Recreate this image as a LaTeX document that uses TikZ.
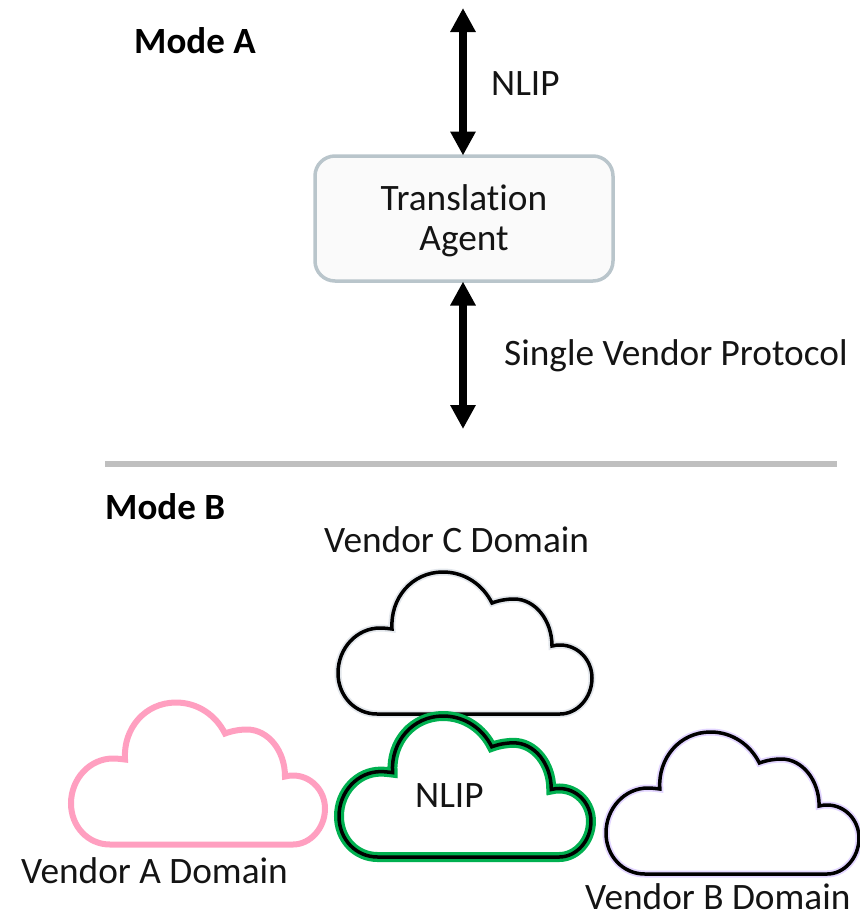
\documentclass[tikz,border=0pt]{standalone}
\usepackage{fontspec}
\setmainfont[Ligatures=NoCommon]{Carlito}
\usetikzlibrary{arrows.meta}
\definecolor{boxline}{HTML}{B9C5CB}
\definecolor{boxfill}{HTML}{FAFAFA}
\definecolor{rule}{HTML}{BFBFBF}
\definecolor{pinkc}{HTML}{FF9FC0}
\definecolor{greenc}{HTML}{00B050}
\definecolor{lilac}{HTML}{E2D5FF}
\definecolor{haze}{HTML}{E3E7EC}
\tikzset{
  x=1pt,y=-1pt,
  lab/.style={font=\fontsize{37.3}{40}\selectfont,inner sep=0pt,text=black!92},
  head/.style={font=\fontsize{37}{38}\selectfont\bfseries,inner sep=0pt},
  agent/.style={draw=boxline,fill=boxfill,line width=3.5pt,outer sep=.5pt,rounded corners=20pt,minimum width=298pt,minimum height=125pt,align=center,inner sep=0pt,font=\fontsize{37.3}{40}\selectfont,text=black!92},
  dbl/.style={line width=7.5pt,{Triangle[width=24pt,length=24pt]}-{Triangle[width=24pt,length=24pt]},black},
  cloudline/.style={line join=miter,miter limit=4},
  cloudshape/.pic={
    \path[pic actions] (39,142) .. controls (17,142) and (0,124) .. (0,101)
      .. controls (0,76) and (19,56) .. (42,56)
      .. controls (46,56) and (50,56.5) .. (54,57)
      .. controls (52,26) and (74,0) .. (105,0)
      .. controls (127,0) and (145,13) .. (154,31)
      .. controls (162,28) and (170,27) .. (176,27)
      .. controls (197,27) and (214,48) .. (214,74)
      .. controls (217,73.3) and (219,73) .. (222,73)
      .. controls (240,73) and (254,88) .. (254,106)
      .. controls (254,126) and (239,142) .. (222,142) -- cycle;
  }
}
\begin{document}
\begin{tikzpicture}
\useasboundingbox (0,0) rectangle (860,914);
\node[agent] (ta) at (464,218.5) {\rule{0pt}{30pt}Translation\\[0pt]Agent};
\coordinate (nt) at (463,8);
\coordinate (nb) at (463,429);
\draw[dbl] (nt) -- (ta.north -| nt);
\draw[dbl] (ta.south -| nb) -- (nb);
\node[head,anchor=base west] (ma) at (134,53) {Mode A};
\node[lab,anchor=base west] (nl) at (491,95) {NLIP};
\node[lab,anchor=base west] (sv) at (504,365) {Single Vendor Protocol};
\coordinate (rl) at (105,464);
\coordinate (rr) at (837,464);
\draw[rule,line width=6pt] (rl) -- (rr);
\node[head,anchor=base west] (mb) at (105,519) {Mode B};
\node[lab,anchor=base west] (vc) at (324,552) {Vendor C Domain};
\pic[draw=haze,line width=7pt,cloudline,fill=white] at (338,572) {cloudshape};
\pic[draw=black,line width=3.5pt,cloudline] at (338,572) {cloudshape};
\pic[draw=pinkc,line width=6pt,cloudline,fill=white] at (71,702.5) {cloudshape};
\pic[draw=greenc,line width=10pt,cloudline,fill=white,xscale=.992,yscale=.993] at (339,716) {cloudshape};
\pic[draw=black,line width=3.5pt,cloudline,xscale=.992,yscale=.993] at (339,716) {cloudshape};
\node[lab,anchor=base west] (nc) at (415,807) {NLIP};
\pic[draw=lilac,line width=7pt,cloudline,fill=white,xscale=.996] at (606,732) {cloudshape};
\pic[draw=black,line width=3.5pt,cloudline,xscale=.996] at (606,732) {cloudshape};
\node[lab,anchor=base west] (va) at (21,883) {Vendor A Domain};
\node[lab,anchor=base west] (vb) at (585,909) {Vendor B Domain};
\end{tikzpicture}
\end{document}
